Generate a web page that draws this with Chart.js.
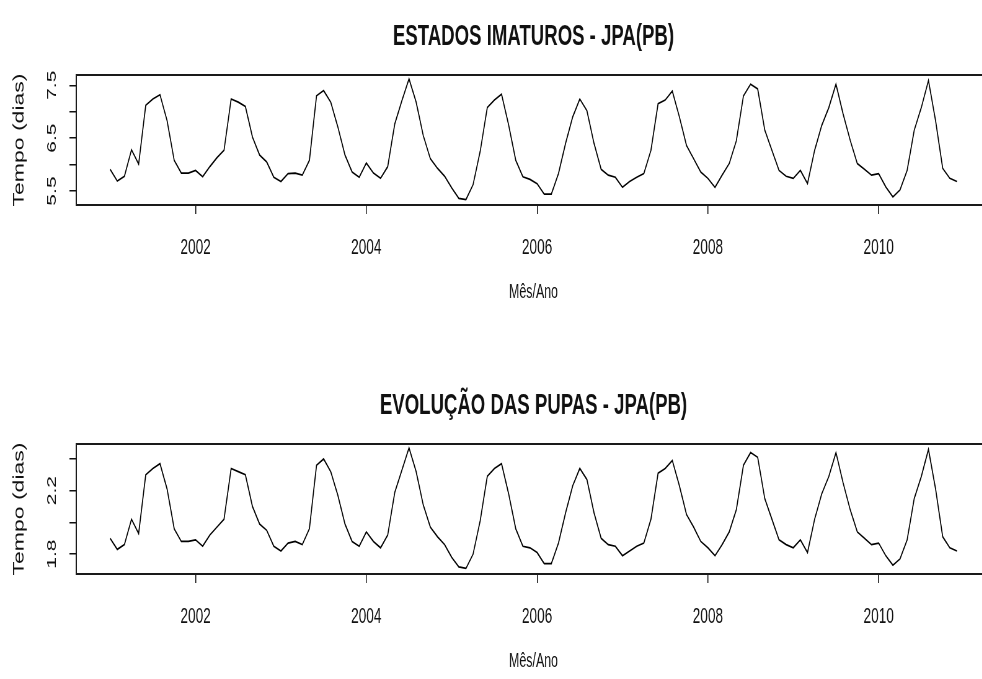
<!DOCTYPE html>
<html>
<head>
<meta charset="utf-8">
<script src="https://cdn.jsdelivr.net/npm/chart.js@4.4.1/dist/chart.umd.min.js"></script>
<style>
  html, body { margin: 0; padding: 0; background: #fff; overflow: hidden; }
  .painel {
    position: absolute; left: 0; width: 1613px; height: 320px;
    transform: scaleX(0.62); transform-origin: 0 0;
  }
  #caixaImat { top: 0; }
  #caixaPupa { top: 369px; }
</style>
</head>
<body>
<div class="painel" id="caixaImat"><canvas id="painelImat" width="1613" height="320"></canvas></div>
<div class="painel" id="caixaPupa"><canvas id="painelPupa" width="1613" height="320"></canvas></div>
<script>
// Série mensal: jan/2001 a dez/2010
const startYear = 2001;

// Tempo de desenvolvimento dos estados imaturos (dias)
const imaturos = [
  5.91, 5.69, 5.78, 6.28, 6.01, 7.12, 7.24, 7.32, 6.83, 6.08, 5.84, 5.84,
  5.89, 5.77, 5.96, 6.13, 6.27, 7.24, 7.18, 7.10, 6.52, 6.18, 6.05, 5.76,
  5.68, 5.83, 5.84, 5.80, 6.08, 7.30, 7.40, 7.18, 6.71, 6.18, 5.86, 5.76,
  6.03, 5.84, 5.74, 5.96, 6.77, 7.21, 7.62, 7.18, 6.55, 6.11, 5.93, 5.78,
  5.56, 5.36, 5.34, 5.62, 6.25, 7.08, 7.22, 7.33, 6.75, 6.08, 5.77, 5.72,
  5.64, 5.44, 5.44, 5.83, 6.40, 6.90, 7.24, 7.02, 6.40, 5.91, 5.80, 5.76,
  5.57, 5.68, 5.76, 5.83, 6.27, 7.15, 7.22, 7.39, 6.90, 6.36, 6.11, 5.86,
  5.74, 5.57, 5.80, 6.02, 6.45, 7.30, 7.52, 7.43, 6.65, 6.27, 5.89, 5.78,
  5.74, 5.89, 5.64, 6.27, 6.74, 7.08, 7.52, 6.96, 6.46, 6.02, 5.91, 5.80,
  5.83, 5.58, 5.39, 5.52, 5.89, 6.65, 7.08, 7.59, 6.83, 5.93, 5.74, 5.68
];

// Tempo de evolução das pupas (dias)
const pupas = [
  1.90, 1.83, 1.86, 2.02, 1.93, 2.30, 2.34, 2.37, 2.21, 1.96, 1.88, 1.88,
  1.89, 1.85, 1.92, 1.97, 2.02, 2.34, 2.32, 2.30, 2.10, 1.99, 1.95, 1.85,
  1.82, 1.87, 1.88, 1.86, 1.96, 2.36, 2.40, 2.32, 2.17, 1.99, 1.88, 1.85,
  1.94, 1.88, 1.84, 1.92, 2.19, 2.33, 2.47, 2.32, 2.11, 1.97, 1.91, 1.86,
  1.78, 1.72, 1.71, 1.80, 2.01, 2.29, 2.34, 2.37, 2.18, 1.96, 1.85, 1.84,
  1.81, 1.74, 1.74, 1.87, 2.06, 2.23, 2.34, 2.27, 2.06, 1.90, 1.86, 1.85,
  1.79, 1.82, 1.85, 1.87, 2.02, 2.31, 2.34, 2.39, 2.23, 2.05, 1.97, 1.88,
  1.84, 1.79, 1.86, 1.94, 2.08, 2.36, 2.44, 2.41, 2.15, 2.02, 1.89, 1.86,
  1.84, 1.89, 1.81, 2.02, 2.18, 2.29, 2.44, 2.25, 2.08, 1.94, 1.90, 1.86,
  1.87, 1.79, 1.73, 1.77, 1.89, 2.15, 2.29, 2.46, 2.21, 1.91, 1.84, 1.82
];

const xTicks = [2002, 2004, 2006, 2008, 2010];
const yTicksImat = [5.5, 6.0, 6.5, 7.0, 7.5];
const yLabelsImat = ['5.5', '', '6.5', '', '7.5'];
const yTicksPupa = [1.8, 2.0, 2.2, 2.4];
const yLabelsPupa = ['1.8', '', '2.2', ''];

const FONTE = '"Liberation Sans", Arial, sans-serif';
Chart.defaults.font.family = FONTE;
Chart.defaults.color = '#111';

// caixa em volta do gráfico + rótulos do eixo y girados (estilo R)
const moldura = {
  id: 'moldura',
  afterDatasetsDraw(chart, args, opts) {
    const ctx = chart.ctx;
    const a = chart.chartArea;
    ctx.save();
    ctx.strokeStyle = '#1a1a1a';
    ctx.lineWidth = 2;
    ctx.strokeRect(a.left, a.top, a.right - a.left, a.bottom - a.top);

    const sy = chart.scales.y;
    ctx.fillStyle = '#111';
    ctx.font = '21px ' + FONTE;
    ctx.textAlign = 'center';
    ctx.textBaseline = 'middle';
    opts.valores.forEach((v, k) => {
      const txt = opts.rotulos[k];
      if (!txt) return;
      ctx.save();
      ctx.translate(opts.x, sy.getPixelForValue(v));
      ctx.rotate(-Math.PI / 2);
      ctx.fillText(txt, 0, 0);
      ctx.restore();
    });
    ctx.restore();
  }
};

function desenhaPainel(id, titulo, serie, yMin, yMax, yTicks, yLabels) {
  const pontos = serie.map((v, i) => ({ x: startYear + i / 12, y: v }));

  return new Chart(document.getElementById(id), {
    type: 'line',
    data: {
      datasets: [{
        data: pontos,
        borderColor: '#000',
        borderWidth: 1.7,
        pointRadius: 0,
        tension: 0,
        fill: false
      }]
    },
    options: {
      responsive: false,
      animation: false,
      devicePixelRatio: 1,
      layout: { padding: { left: 0, right: 15, top: 0, bottom: 0 } },
      plugins: {
        legend: { display: false },
        tooltip: { enabled: false },
        title: {
          display: true,
          text: titulo,
          fullSize: false,
          color: '#111',
          font: { size: 30, weight: 'bold', lineHeight: 1.2 },
          padding: { top: 19, bottom: 20 }
        },
        moldura: { valores: yTicks, rotulos: yLabels, x: 84 }
      },
      scales: {
        x: {
          type: 'linear',
          min: 2000.603,
          max: 2011.313,
          afterBuildTicks: s => { s.ticks = xTicks.map(v => ({ value: v })); },
          afterFit: s => { s.height = 115; },
          border: { display: false },
          grid: { drawOnChartArea: false, drawTicks: true, tickLength: 9, color: '#111', lineWidth: 1.5 },
          ticks: { color: '#111', font: { size: 22 }, padding: 20.8, maxRotation: 0, callback: v => String(v) },
          title: { display: true, text: 'Mês/Ano', color: '#111', font: { size: 20 }, padding: { top: 0, bottom: 16 } }
        },
        y: {
          type: 'linear',
          min: yMin,
          max: yMax,
          afterBuildTicks: s => { s.ticks = yTicks.map(v => ({ value: v })); },
          afterFit: s => { s.width = 123; },
          border: { display: false },
          grid: { drawOnChartArea: false, drawTicks: true, tickLength: 11, color: '#111', lineWidth: 1.5 },
          ticks: { display: false },
          title: { display: true, text: 'Tempo (dias)', color: '#111', font: { size: 23 }, padding: { top: 18, bottom: 0 } }
        }
      }
    },
    plugins: [moldura]
  });
}

desenhaPainel('painelImat', 'ESTADOS IMATUROS - JPA(PB)', imaturos, 5.236, 7.694, yTicksImat, yLabelsImat);
desenhaPainel('painelPupa', 'EVOLUÇÃO DAS PUPAS - JPA(PB)', pupas, 1.675, 2.494, yTicksPupa, yLabelsPupa);
</script>
</body>
</html>
